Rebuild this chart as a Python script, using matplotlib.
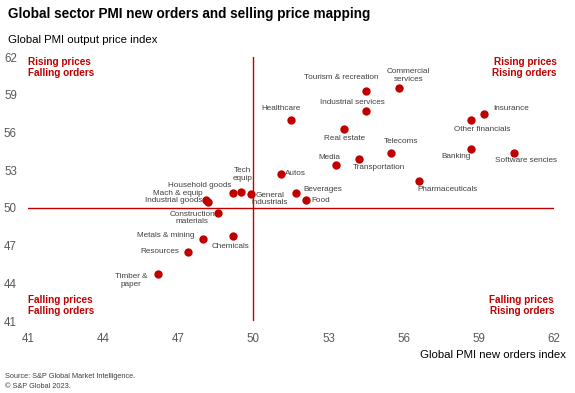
import matplotlib
matplotlib.use("Agg")
import matplotlib.pyplot as plt

plt.rcParams['font.family'] = ['Liberation Sans', 'DejaVu Sans']

# sector data: new orders index (x), output price index (y)
sectors = ["Commercial\nservices", "Tourism & recreation", "Industrial services", "Healthcare",
           "Real estate", "Telecoms", "Media", "Transportation", "Autos", "General\nindustrials",
           "Beverages", "Food", "Pharmaceuticals", "Banking", "Software sencies",
           "Other financials", "Insurance", "Tech\nequip", "Household goods", "Mach & equip",
           "Industrial goods", "Construction\nmaterials", "Metals & mining", "Chemicals",
           "Resources", "Timber &\npaper"]
new_orders = [55.8, 54.5, 54.5, 51.5, 53.6, 55.5, 53.3, 54.2, 51.1, 49.9,
              51.7, 52.1, 56.6, 58.7, 60.4, 58.7, 59.2, 49.5, 49.2, 48.1,
              48.2, 48.6, 48.0, 49.2, 47.4, 46.2]
output_prices = [59.5, 59.3, 57.7, 57.0, 56.3, 54.4, 53.4, 53.9, 52.7, 51.1,
                 51.2, 50.6, 52.1, 54.7, 54.4, 57.0, 57.5, 51.3, 51.2, 50.6,
                 50.5, 49.6, 47.5, 47.8, 46.5, 44.7]
# label offsets in pixels (dx, dy up) and alignment
offsets = [(10, 13, 'center'), (-25, 13, 'center'), (-14, 9, 'center'), (-10, 11, 'center'),
           (1, -10, 'center'), (10, 11, 'center'), (-7, 8, 'center'), (20, -9, 'center'),
           (4, 0, 'left'), (19, -5, 'center'), (7, 3, 'left'), (5, 0, 'left'),
           (29, -8, 'center'), (-15, -8, 'center'), (12, -8, 'center'), (11, -10, 'center'),
           (9, 5, 'left'), (2, 17, 'center'), (-34, 7, 'center'), (-28, 7, 'center'),
           (-35, 1, 'center'), (-26, -5, 'center'), (-38, 4, 'center'), (-3, -11, 'center'),
           (-28, 0, 'center'), (-27, -6, 'center')]
ticks = [41, 44, 47, 50, 53, 56, 59, 62]

red = '#C00000'
grey = '#404040'

fig = plt.figure(figsize=(5.75, 3.93), dpi=100)
ax = fig.add_axes([28 / 575, 1 - 321 / 393, 526 / 575, 264 / 393])

ax.axvline(50, color=red, lw=1, zorder=1)
ax.axhline(50, color=red, lw=1, zorder=1)
ax.scatter(new_orders, output_prices, s=36, color=red, zorder=3, linewidths=0)

for name, x, y, (dx, dy, ha) in zip(sectors, new_orders, output_prices, offsets):
    ax.annotate(name, (x, y), xytext=(dx * 0.72, dy * 0.72), textcoords='offset points',
                ha=ha, va='center', fontsize=5.9, color=grey, linespacing=1.15)

ax.set_xlim(41, 62)
ax.set_ylim(41, 62)
ax.set_xticks(ticks)
ax.set_yticks(ticks)
for s in ax.spines.values():
    s.set_visible(False)
ax.tick_params(length=0, labelsize=8.3, colors='#595959')
ax.tick_params(axis='x', pad=9)
ax.tick_params(axis='y', pad=8)

qkw = dict(color=red, fontsize=7.2, fontweight='bold', transform=ax.transAxes, linespacing=1.15)
ax.text(0.0, 1.0, "Rising prices\nFalling orders", ha='left', va='top', **qkw)
ax.text(1.005, 1.0, "Rising prices\nRising orders", ha='right', va='top', **qkw)
ax.text(0.0, 0.02, "Falling prices\nFalling orders", ha='left', va='bottom', **qkw)
ax.text(1.0, 0.02, "Falling prices\nRising orders", ha='right', va='bottom', **qkw)

fig.text(8 / 575, 1 - 14 / 393, "Global sector PMI new orders and selling price mapping",
         fontsize=9.8, fontweight='bold', color='black', va='center')
fig.text(8 / 575, 1 - 40 / 393, "Global PMI output price index", fontsize=8.2, color='black', va='center')
fig.text(566 / 575, 1 - 355 / 393, "Global PMI new orders index", fontsize=8.2, color='black',
         ha='right', va='center')
fig.text(5 / 575, 1 - 376 / 393, "Source: S&P Global Market Intelligence.", fontsize=5.3, color=grey, va='center')
fig.text(5 / 575, 1 - 386 / 393, "\u00a9 S&P Global 2023.", fontsize=5.3, color=grey, va='center')

fig.savefig('out.png', dpi=100)
